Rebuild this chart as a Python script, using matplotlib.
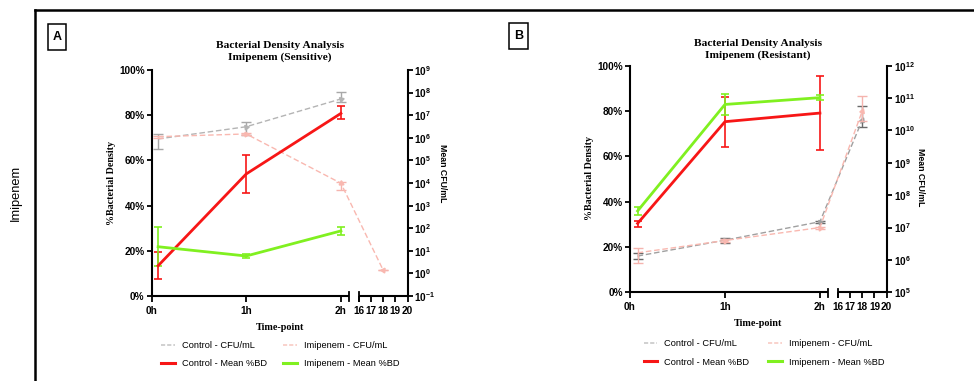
import numpy as np
import matplotlib
matplotlib.use("Agg")
import matplotlib.pyplot as plt
from matplotlib.lines import Line2D
from matplotlib.patches import Rectangle
import matplotlib.transforms as mtrans

# ---------------- data ----------------
x_tick_vals = [0, 1, 2, 16, 17, 18, 19, 20]
x_tick_labels = ["0h", "1h", "2h", "16", "17", "18", "19", "20"]

# Panel A : Imipenem (Sensitive)
A_hours = [0.07, 1, 2]
A_ctrl_bd = [13.4, 54.0, 80.8]
A_ctrl_bd_lo = [7.4, 45.4, 78.2]
A_ctrl_bd_hi = [19.5, 62.4, 83.9]
A_imi_bd = [21.8, 17.7, 28.8]
A_imi_bd_lo = [13.2, 16.8, 27.1]
A_imi_bd_hi = [30.4, 18.6, 30.4]
A_ctrl_cfu_hours = [0.07, 1, 2]
A_ctrl_cfu_log = [5.95, 6.49, 7.72]
A_ctrl_cfu_lo = [5.49, 6.12, 7.60]
A_ctrl_cfu_hi = [6.15, 6.71, 8.04]
A_imi_cfu_hours = [0.07, 1, 2, 18]
A_imi_cfu_log = [6.05, 6.17, 3.99, 0.15]
A_imi_cfu_lo = [5.98, 6.12, 3.69, 0.15]
A_imi_cfu_hi = [6.10, 6.22, 4.06, 0.15]

# Panel B : Imipenem (Resistant)
B_hours = [0.08, 1, 2]
B_ctrl_bd = [30.4, 75.3, 79.1]
B_ctrl_bd_lo = [28.8, 64.0, 62.8]
B_ctrl_bd_hi = [31.6, 86.3, 95.4]
B_imi_bd = [35.9, 82.9, 85.9]
B_imi_bd_lo = [34.1, 78.3, 85.0]
B_imi_bd_hi = [37.8, 87.4, 86.9]
B_ctrl_cfu_hours = [0.08, 1, 2, 18]
B_ctrl_cfu_log = [6.12, 6.61, 7.18, 10.32]
B_ctrl_cfu_lo = [6.02, 6.53, 7.15, 10.10]
B_ctrl_cfu_hi = [6.20, 6.67, 7.21, 10.76]
B_imi_cfu_hours = [0.08, 1, 2, 18]
B_imi_cfu_log = [6.22, 6.60, 7.00, 10.60]
B_imi_cfu_lo = [5.89, 6.55, 6.97, 10.30]
B_imi_cfu_hi = [6.36, 6.65, 7.03, 11.06]

# ---------------- style ----------------
SANS = "Liberation Sans"
SERIF = "Liberation Serif"
RED = "#f71616"
GREEN = "#80f020"
GRAY_LINE = "#b4b4b4"
PINK_LINE = "#f9b8b0"
W, H = 974, 381

fig = plt.figure(figsize=(W / 100, H / 100), dpi=100)


def fx(x):
    return x / W


def fy(y):
    return 1 - y / H


# broken x-axis scale
BRK_END = 2.09
SEG2_START = 2.188
SEG2_K = 0.1288
src = [-100, BRK_END, 16, 20, 100]
dst = [-100, BRK_END, SEG2_START, SEG2_START + 4 * SEG2_K, SEG2_START + 84 * SEG2_K]


def fwd(t):
    return np.interp(t, src, dst)


def inv(u):
    return np.interp(u, dst, src)


def make_panel(box, title, bd_series, cfu_series, ylog_lim, yl_pos, yr_pos, tp_pos, title_pos):
    l, t, r, b = box
    ax = fig.add_axes([fx(l), fy(b), fx(r) - fx(l), (b - t) / H])
    ax.set_xscale("function", functions=(fwd, inv))
    ax.set_xlim(0, 20)
    ax.set_ylim(0, 100)
    ax2 = ax.twinx()
    ax2.set_yscale("log")
    ax2.set_ylim(10.0 ** ylog_lim[0], 10.0 ** ylog_lim[1])
    ax2.set_yticks([10.0 ** k for k in range(ylog_lim[0], ylog_lim[1] + 1)])
    ax2.yaxis.set_minor_locator(matplotlib.ticker.NullLocator())

    for a in (ax, ax2):
        a.spines["top"].set_visible(False)
        a.spines["bottom"].set_visible(False)
        for s in ("left", "right"):
            a.spines[s].set_linewidth(1.5)
        a.tick_params(axis="both", which="major", direction="out", length=3.5, width=1.3,
                      labelsize=7.2, pad=1.5)
    ax.spines["right"].set_visible(False)
    ax2.spines["left"].set_visible(False)

    ax.set_yticks(range(0, 101, 20))
    ax.set_yticklabels([f"{v}%" for v in range(0, 101, 20)])
    ax.set_xticks(x_tick_vals)
    ax.set_xticklabels(x_tick_labels)
    ax.xaxis.set_minor_locator(matplotlib.ticker.NullLocator())
    ax.tick_params(axis="x", length=4, pad=3)
    for lab in ax.get_xticklabels() + ax.get_yticklabels() + ax2.get_yticklabels():
        lab.set_fontfamily(SANS)
        lab.set_fontweight("bold")

    # broken bottom axis
    trans = mtrans.blended_transform_factory(ax.transData, ax.transAxes)
    ax.plot([0, BRK_END], [0, 0], color="black", lw=1.5, transform=trans, clip_on=False,
            solid_capstyle="butt")
    ax.plot([16, 20], [0, 0], color="black", lw=1.5, transform=trans, clip_on=False,
            solid_capstyle="butt")
    dh = 4.5 / (b - t)
    for xb in (BRK_END, 16):
        ax.plot([xb, xb], [-dh, dh * 0.8], color="black", lw=1.3, transform=trans,
                clip_on=False)

    # CFU series (dashed, right axis)
    for hrs, lg, lo, hi, lc, ec in cfu_series:
        hrs = np.array(hrs)
        v = 10.0 ** np.array(lg)
        lo_v = 10.0 ** np.array(lo)
        hi_v = 10.0 ** np.array(hi)
        ax2.errorbar(hrs, v, yerr=[v - lo_v, hi_v - v], fmt="none", ecolor=ec,
                     elinewidth=1.0, capsize=3.5, capthick=1.0, clip_on=False)
        ax2.plot(hrs, v, color=lc, lw=1.0, ls=(0, (4, 2)), clip_on=False)
        pts = ax2.transData.transform(np.column_stack([hrs, v]))
        for i in range(1, len(hrs)):
            dx, dy = pts[i] - pts[i - 1]
            ang = np.degrees(np.arctan2(dy, dx))
            ax2.plot([hrs[i]], [v[i]], marker=(3, 0, ang - 90), ms=4, color=lc,
                     mec=lc, ls="none", clip_on=False)

    # %BD series (solid, left axis)
    for hrs, val, lo, hi, col in bd_series:
        val = np.array(val)
        ax.errorbar(hrs, val, yerr=[val - np.array(lo), np.array(hi) - val], color=col,
                    lw=2.0, elinewidth=1.2, capsize=3.2, capthick=1.2, clip_on=False)

    ax.set_zorder(ax2.get_zorder() + 1)
    ax.patch.set_visible(False)

    # labels
    fig.text(fx(title_pos[0]), fy(title_pos[1]), title, ha="center", va="center",
             fontfamily=SERIF, fontweight="bold", fontsize=8.2, linespacing=1.45)
    fig.text(fx(yl_pos[0]), fy(yl_pos[1]), "%Bacterial Density", rotation=90, ha="center",
             va="center", fontfamily=SERIF, fontweight="bold", fontsize=7.2)
    fig.text(fx(yr_pos[0]), fy(yr_pos[1]), "Mean CFU/mL", rotation=270, ha="center",
             va="center", fontfamily=SANS, fontweight="bold", fontsize=6.3)
    fig.text(fx(tp_pos[0]), fy(tp_pos[1]), "Time-point", ha="center", va="center",
             fontfamily=SERIF, fontweight="bold", fontsize=7.3)
    return ax, ax2


# Panel A
make_panel(
    (151.5, 70, 407.5, 296),
    "Bacterial Density Analysis\nImipenem (Sensitive)",
    [(A_hours, A_ctrl_bd, A_ctrl_bd_lo, A_ctrl_bd_hi, RED),
     (A_hours, A_imi_bd, A_imi_bd_lo, A_imi_bd_hi, GREEN)],
    [(A_ctrl_cfu_hours, A_ctrl_cfu_log, A_ctrl_cfu_lo, A_ctrl_cfu_hi, GRAY_LINE, "#a8a8a8"),
     (A_imi_cfu_hours, A_imi_cfu_log, A_imi_cfu_lo, A_imi_cfu_hi, PINK_LINE, "#f5b4ae")],
    (-1, 9), (112, 183), (443, 173), (280, 328), (280, 51.5))

# Panel B
make_panel(
    (630, 65.7, 886.7, 292.3),
    "Bacterial Density Analysis\nImipenem (Resistant)",
    [(B_hours, B_ctrl_bd, B_ctrl_bd_lo, B_ctrl_bd_hi, RED),
     (B_hours, B_imi_bd, B_imi_bd_lo, B_imi_bd_hi, GREEN)],
    [(B_ctrl_cfu_hours, B_ctrl_cfu_log, B_ctrl_cfu_lo, B_ctrl_cfu_hi, "#a0a0a0", "#6a6a6a"),
     (B_imi_cfu_hours, B_imi_cfu_log, B_imi_cfu_lo, B_imi_cfu_hi, PINK_LINE, "#f5b4ae")],
    (5, 12), (590, 178), (920, 177), (758, 324), (758, 49.5))

# legends
handles = [
    Line2D([], [], color="#c8c8c8", lw=1.2, ls=(0, (2.5, 1.2))),
    Line2D([], [], color=RED, lw=2.2),
    Line2D([], [], color="#f8cbc4", lw=1.2, ls=(0, (2.5, 1.2))),
    Line2D([], [], color=GREEN, lw=2.2),
]
labels = ["Control - CFU/mL", "Control - Mean %BD", "Imipenem - CFU/mL", "Imipenem - Mean %BD"]
for cx, cy, csp in ((280, 354.5, 1.75), (764, 353, 2.0)):
    fig.legend(handles, labels, ncol=2, loc="center", bbox_to_anchor=(fx(cx), fy(cy)),
               frameon=False, borderpad=0, handlelength=1.5, handletextpad=0.75,
               columnspacing=csp, labelspacing=1.0,
               prop={"family": SANS, "size": 6.7})

# frame lines
fig.add_artist(Line2D([fx(34.5), fx(34.5)], [fy(9.7), fy(381)], color="black", lw=1.8,
                      solid_capstyle="projecting"))
fig.add_artist(Line2D([fx(34.5), fx(974)], [fy(9.7), fy(9.7)], color="black", lw=1.8,
                      solid_capstyle="projecting"))

# panel letters
for (x0, y0, x1, y1), letter in (((47.7, 24, 65.7, 50), "A"), ((509, 23, 527.7, 49), "B")):
    fig.add_artist(Rectangle((fx(x0), fy(y1)), fx(x1) - fx(x0), (y1 - y0) / H,
                             fill=False, edgecolor="black", lw=1.1,
                             transform=fig.transFigure))
    fig.text(fx((x0 + x1) / 2), fy((y0 + y1) / 2), letter, ha="center", va="center",
             fontfamily=SANS, fontweight="bold", fontsize=9)

fig.text(fx(16), fy(193), "Imipenem", rotation=90, ha="center", va="center",
         fontfamily=SANS, fontsize=9.3)

fig.savefig("out.png", dpi=100)
